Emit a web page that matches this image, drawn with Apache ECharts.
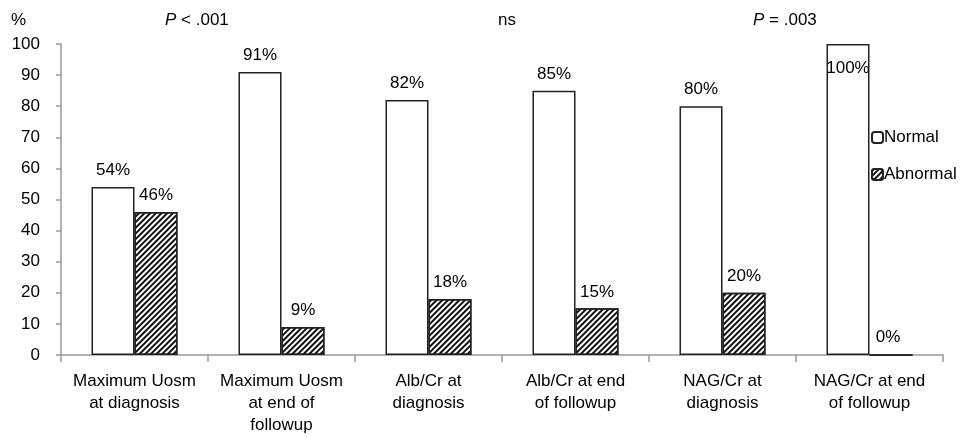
<!DOCTYPE html>
<html>
<head>
<meta charset="utf-8">
<script src="https://cdn.jsdelivr.net/npm/echarts@6/dist/echarts.min.js"></script>
<style>
html,body{margin:0;padding:0;background:#fff;}
#chart{width:973px;height:438px;}
</style>
</head>
<body>
<div id="chart"></div>
<script>
var categories = ['Maximum Uosm\nat diagnosis', 'Maximum Uosm\nat end of\nfollowup', 'Alb/Cr at\ndiagnosis', 'Alb/Cr at end\nof followup', 'NAG/Cr at\ndiagnosis', 'NAG/Cr at end\nof followup'];
var normalValues = [54, 91, 82, 85, 80, 100];
var abnormalValues = [46, 9, 18, 15, 20, 0];
var yTicks = [0, 10, 20, 30, 40, 50, 60, 70, 80, 90, 100];
var annotations = [
  {text: '{i|P} < .001', x: 165},
  {text: 'ns', x: 498},
  {text: '{i|P} = .003', x: 753}
];

var FONT = '"Liberation Sans", Arial, sans-serif';
var FS = 17;
var chart = echarts.init(document.getElementById('chart'), null, {renderer: 'canvas'});

function labelData(vals) {
  return vals.map(function (v) {
    var d = {value: v};
    if (v === 100) {
      d.label = {position: 'insideTop', distance: 16};
    }
    if (v === 0) {
      d.label = {offset: [-3, 0]};
    }
    return d;
  });
}

var graphics = [{
  type: 'text', left: 11, top: 12,
  style: {text: '%', font: FS + 'px ' + FONT, fill: '#000'}
}];
annotations.forEach(function (a) {
  graphics.push({
    type: 'text', left: a.x, top: 12,
    style: {
      text: a.text,
      font: FS + 'px ' + FONT, fill: '#000',
      rich: {i: {fontStyle: 'italic', fontSize: FS, fontFamily: FONT}}
    }
  });
});

chart.setOption({
  animation: false,
  backgroundColor: '#fff',
  textStyle: {fontFamily: FONT},
  grid: {left: 61, right: 30, top: 44, bottom: 83, containLabel: false},
  legend: {
    orient: 'vertical',
    left: 866, top: 124,
    itemWidth: 11, itemHeight: 11, itemGap: 20,
    textStyle: {fontSize: FS, color: '#000', fontFamily: FONT, padding: [0, 0, 0, -4]},
    data: ['Normal', 'Abnormal']
  },
  xAxis: {
    type: 'category',
    data: categories,
    axisLine: {lineStyle: {color: '#999', width: 1.5}},
    axisTick: {show: true, length: 7, alignWithLabel: false, lineStyle: {color: '#999', width: 1.5}},
    axisLabel: {fontSize: FS, color: '#000', lineHeight: 22, margin: 15, interval: 0, fontFamily: FONT}
  },
  yAxis: {
    type: 'value',
    min: 0, max: 100, interval: 10,
    splitLine: {show: false},
    axisLine: {show: true, lineStyle: {color: '#999', width: 1.5}},
    axisTick: {show: true, length: 5, inside: false, lineStyle: {color: '#999', width: 1.5}},
    axisLabel: {fontSize: FS, color: '#000', margin: 21, fontFamily: FONT,
      formatter: function (v) { return yTicks.indexOf(v) >= 0 ? String(v) : ''; }}
  },
  graphic: graphics,
  series: [{
    name: 'Normal',
    type: 'bar',
    data: labelData(normalValues),
    barWidth: 43,
    barGap: '0%',
    itemStyle: {color: '#fff', borderColor: '#222', borderWidth: 1.5},
    label: {show: true, position: 'top', distance: 8, fontSize: FS, color: '#000', fontFamily: FONT,
      formatter: '{c}%'}
  }, {
    name: 'Abnormal',
    type: 'bar',
    data: labelData(abnormalValues),
    barWidth: 43,
    barGap: '0%',
    itemStyle: {
      color: '#fff', borderColor: '#222', borderWidth: 1.5,
      decal: {symbol: 'rect', symbolSize: 1, color: '#111', dashArrayX: [1, 0], dashArrayY: [1.5, 1.2], rotation: -Math.PI / 4}
    },
    label: {show: true, position: 'top', distance: 8, fontSize: FS, color: '#000', fontFamily: FONT,
      formatter: '{c}%'}
  }]
});
</script>
</body>
</html>
